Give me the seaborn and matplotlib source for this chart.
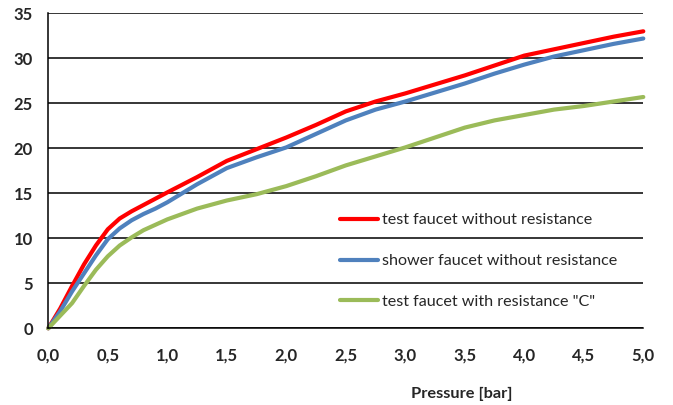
import matplotlib
matplotlib.use("Agg")
import matplotlib.pyplot as plt
import seaborn as sns
import pandas as pd

pressure = [0.0, 0.1, 0.2, 0.3, 0.4, 0.5, 0.6, 0.7, 0.8, 0.9, 1.0, 1.25, 1.5, 1.75, 2.0,
            2.25, 2.5, 2.75, 3.0, 3.25, 3.5, 3.75, 4.0, 4.25, 4.5, 4.75, 5.0]
test_no_res = [0.0, 2.2, 4.7, 7.1, 9.2, 11.0, 12.2, 13.0, 13.7, 14.4, 15.1, 16.8, 18.6, 19.9, 21.2,
               22.6, 24.1, 25.2, 26.1, 27.1, 28.1, 29.2, 30.3, 31.0, 31.7, 32.4, 33.0]
shower_no_res = [0.0, 1.9, 4.1, 6.1, 8.1, 9.9, 11.1, 12.0, 12.7, 13.3, 14.0, 16.0, 17.8, 19.0, 20.1,
                 21.6, 23.1, 24.3, 25.2, 26.2, 27.2, 28.3, 29.3, 30.2, 30.9, 31.6, 32.2]
test_res_c = [0.0, 1.4, 2.8, 4.7, 6.5, 8.0, 9.2, 10.1, 10.9, 11.5, 12.1, 13.3, 14.2, 14.9, 15.8,
              16.9, 18.1, 19.1, 20.1, 21.2, 22.3, 23.1, 23.7, 24.3, 24.7, 25.2, 25.7]
series_names = ["test faucet without resistance",
                "shower faucet without resistance",
                'test faucet with resistance "C"']
series_colors = ["#FF0000", "#4F81BD", "#9BBB59"]
x_ticks = [0.0, 0.5, 1.0, 1.5, 2.0, 2.5, 3.0, 3.5, 4.0, 4.5, 5.0]
x_tick_labels = ["0,0", "0,5", "1,0", "1,5", "2,0", "2,5", "3,0", "3,5", "4,0", "4,5", "5,0"]
y_ticks = [0, 5, 10, 15, 20, 25, 30, 35]
x_label = "Pressure [bar]"

rows = []
for name, vals in zip(series_names, [test_no_res, shower_no_res, test_res_c]):
    for p, v in zip(pressure, vals):
        rows.append({"Pressure": p, "Value": v, "Series": name})
df = pd.DataFrame(rows)

sns.set_style("white")
plt.rcParams["font.family"] = ["Lato", "DejaVu Sans"]

fig = plt.figure(figsize=(6.73, 4.05), dpi=100)
ax = fig.add_axes([48.3 / 673, 1 - 328.3 / 405, (643.3 - 48.3) / 673, (328.3 - 13.3) / 405])

sns.lineplot(data=df, x="Pressure", y="Value", hue="Series", hue_order=series_names,
             palette=series_colors, linewidth=3.0, ax=ax, legend=True, clip_on=False)
for ln in ax.get_lines():
    ln.set_solid_joinstyle("round")
    ln.set_solid_capstyle("round")

ax.set_xlim(0, 5)
ax.set_ylim(0, 35)
ax.set_yticks(y_ticks)
ax.set_yticklabels([str(t) for t in y_ticks])
ax.set_xticks(x_ticks)
ax.set_xticklabels(x_tick_labels)
ax.yaxis.grid(True, color="black", linewidth=1.1)
ax.set_axisbelow(True)
for s in ["top", "right"]:
    ax.spines[s].set_visible(False)
for s in ["left", "bottom"]:
    ax.spines[s].set_color("black")
    ax.spines[s].set_linewidth(1.1)
ax.tick_params(axis="both", which="major", direction="out", length=5, width=1.1,
               color="black", labelsize=12)
ax.tick_params(axis="y", pad=6)
ax.tick_params(axis="x", pad=9)
for lab in ax.get_xticklabels() + ax.get_yticklabels():
    lab.set_fontweight("bold")

ax.set_xlabel("")
ax.set_ylabel("")
fig.text(462 / 673, 1 - 394 / 405, x_label, ha="center", va="center",
         fontsize=11.8, fontweight="bold")

handles, labels = ax.get_legend_handles_labels()
ax.legend(handles, labels, frameon=False, loc="center left",
          bbox_to_anchor=(334 / 673, 1 - 261 / 405), bbox_transform=fig.transFigure,
          fontsize=11.6, handlelength=2.3, handletextpad=0.25, labelspacing=1.65,
          borderaxespad=0)

fig.savefig("out.png", dpi=100)
